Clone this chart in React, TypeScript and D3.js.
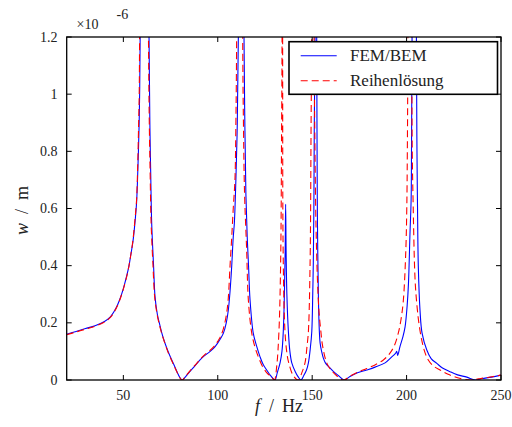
import React from "react";
import * as d3 from "d3";

// FEM/BEM solution (frequency in Hz, displacement in 1e-6 m)
const femF = [20, 25, 30, 35, 40, 43, 46, 48, 50, 52, 53, 54, 55, 56, 57, 57.7, 58.3, 58.6, 58.9, 61, 63.6, 64.1, 64.5, 65, 66, 66.8, 68, 69.4, 71, 73.8, 76, 78, 80, 81.2, 83, 85.3, 88, 90.6, 93, 96, 98.6, 100, 101.5, 103, 104.5, 105.6, 106.5, 107.4, 108.2, 108.8, 109.5, 110.2, 110.9, 112.4, 113.9, 114.4, 114.9, 115.6, 116.3, 117.1, 118.8, 120.5, 122.4, 124, 125.9, 128, 130.3, 131.5, 133, 134, 134.7, 135.3, 135.7, 135.95, 136.2, 136.6, 137.4, 138.2, 139.2, 141, 142.5, 144.1, 145.5, 147, 148, 149, 149.8, 150.3, 150.6, 150.9, 151.1, 151.5, 152, 152.4, 152.6, 152.8, 153.3, 153.8, 154.2, 155, 156, 157, 159, 161.2, 164, 167, 170, 174, 178.9, 183.3, 188.6, 192, 194, 194.8, 195.3, 196.5, 198, 199.2, 200.3, 201, 201.8, 202.4, 202.6, 202.9, 204.1, 205.2, 205.5, 205.8, 206.2, 207.1, 208.2, 210.7, 213, 216, 219, 223, 227, 231.9, 236.3, 240, 245, 250];
const femW = [0.16, 0.17, 0.18, 0.19, 0.205, 0.22, 0.25, 0.28, 0.32, 0.37, 0.4, 0.44, 0.48, 0.54, 0.62, 0.74, 0.88, 0.99, 1.2, 5, 1.2, 0.87, 0.72, 0.55, 0.4, 0.29, 0.23, 0.19, 0.15, 0.098, 0.065, 0.035, 0.008, 0, 0.012, 0.03, 0.05, 0.07, 0.085, 0.1, 0.117, 0.13, 0.145, 0.164, 0.2, 0.245, 0.31, 0.4, 0.5, 0.55, 0.68, 0.85, 1.2, 5, 1.2, 0.87, 0.65, 0.5, 0.4, 0.28, 0.164, 0.12, 0.081, 0.055, 0.035, 0.015, 0, 0.025, 0.06, 0.1, 0.17, 0.3, 0.45, 0.615, 0.45, 0.3, 0.17, 0.1, 0.06, 0.03, 0.012, 0, 0.015, 0.035, 0.06, 0.11, 0.17, 0.3, 0.41, 0.6, 0.87, 1.2, 5, 1.2, 0.8, 0.55, 0.29, 0.17, 0.13, 0.1, 0.075, 0.06, 0.045, 0.03, 0.015, 0, 0.012, 0.025, 0.035, 0.045, 0.06, 0.08, 0.092, 0.1, 0.086, 0.117, 0.15, 0.186, 0.26, 0.338, 0.513, 0.63, 0.8, 1.2, 5, 1.2, 0.8, 0.6, 0.4, 0.245, 0.164, 0.105, 0.075, 0.058, 0.042, 0.029, 0.018, 0.01, 0, 0.005, 0.01, 0.017];

// series solution (Reihenlösung)
const reiheF = [20, 25, 30, 35, 40, 43, 46, 48, 50, 52, 53, 54, 55, 56, 57, 57.6, 58.1, 58.4, 58.6, 61, 63.3, 63.8, 64.2, 64.7, 65.7, 66.6, 68, 69.4, 71, 73.8, 76, 78, 80, 81.1, 83, 85.3, 88, 90.6, 93, 96, 98.6, 100, 101.5, 103, 104.5, 105.5, 106.5, 107.4, 108.2, 109.1, 109.6, 110, 111.6, 113.2, 113.6, 114.2, 115.3, 116.2, 118, 119.7, 121.5, 123.5, 126, 128.6, 130, 131.2, 132.4, 133.3, 133.8, 134.05, 134.2, 134.35, 134.7, 135.6, 136.5, 137.4, 140, 142.7, 144.5, 146.2, 147.3, 148, 148.9, 149.4, 149.7, 150.4, 151, 151.5, 152, 152.8, 153.6, 154.6, 155.5, 157.7, 160, 163, 166.5, 170, 174, 178.9, 183, 187.7, 191.2, 193.5, 195.6, 197, 198.3, 199.6, 200.1, 200.4, 200.7, 201.7, 202.7, 203, 203.4, 204.5, 205.5, 206.5, 208, 209.8, 211.5, 214, 217.7, 222, 227, 233.6, 238, 243, 250];
const reiheW = [0.158, 0.168, 0.178, 0.188, 0.203, 0.218, 0.248, 0.278, 0.318, 0.368, 0.4, 0.44, 0.485, 0.55, 0.63, 0.75, 0.9, 1.0, 1.2, 5, 1.2, 0.87, 0.72, 0.55, 0.4, 0.29, 0.225, 0.185, 0.148, 0.095, 0.062, 0.033, 0.007, 0, 0.013, 0.032, 0.052, 0.072, 0.088, 0.104, 0.122, 0.135, 0.152, 0.18, 0.225, 0.28, 0.4, 0.5, 0.6, 0.7, 0.9, 1.2, 5, 1.2, 0.9, 0.65, 0.455, 0.28, 0.164, 0.115, 0.081, 0.05, 0.025, 0.01, 0, 0.047, 0.17, 0.41, 0.87, 1.2, 5, 1.2, 0.41, 0.17, 0.1, 0.065, 0.015, 0, 0.025, 0.06, 0.12, 0.17, 0.41, 0.87, 1.2, 5, 1.2, 0.8, 0.55, 0.35, 0.24, 0.17, 0.12, 0.06, 0.035, 0.015, 0, 0.013, 0.027, 0.04, 0.052, 0.07, 0.094, 0.12, 0.164, 0.21, 0.28, 0.455, 0.6, 0.8, 1.2, 5, 1.2, 0.8, 0.64, 0.35, 0.26, 0.2, 0.14, 0.095, 0.07, 0.05, 0.035, 0.02, 0.008, 0, 0.004, 0.009, 0.017];

const xTicks = [50, 100, 150, 200, 250];
const yTicks = [0, 0.2, 0.4, 0.6, 0.8, 1, 1.2];
const legendLabels = ["FEM/BEM", "Reihenlösung"];

const W = 512;
const H = 427;
const left = 66.7, right = 501, top = 37, bottom = 380;
const serif = { fontFamily: "Liberation Serif, DejaVu Serif, serif" };

export default function App() {
  const x = d3.scaleLinear().domain([20, 250]).range([left, right]);
  const y = d3.scaleLinear().domain([0, 1.2]).range([bottom, top]);

  const line = d3.line<[number, number]>()
    .x((d) => x(d[0]))
    .y((d) => y(d[1]))
    .curve(d3.curveCatmullRom.alpha(0.5));

  const fem = femF.map((f, i) => [f, femW[i]] as [number, number]);
  const reihe = reiheF.map((f, i) => [f, reiheW[i]] as [number, number]);

  const tick = 5;

  return (
    <svg width={W} height={H} style={{ position: "absolute", left: 0, top: 0, background: "#fff" }}>
      <defs>
        <clipPath id="plot">
          <rect x={left} y={top} width={right - left} height={bottom - top} />
        </clipPath>
      </defs>

      <g clipPath="url(#plot)">
        <path d={line(fem) || ""} fill="none" stroke="#0000ff" strokeWidth={1.1} />
        <path d={line(reihe) || ""} fill="none" stroke="#ff0000" strokeWidth={1.1} strokeDasharray="7 4" />
      </g>

      {/* ticks, inward on all four sides */}
      {xTicks.map((t) => (
        <g key={"x" + t}>
          <line x1={x(t)} x2={x(t)} y1={bottom} y2={bottom - tick} stroke="#000" strokeWidth={1} />
          <line x1={x(t)} x2={x(t)} y1={top} y2={top + tick} stroke="#000" strokeWidth={1} />
          <text x={x(t)} y={400} textAnchor="middle" fontSize={14} fill="#222" style={serif}>{t}</text>
        </g>
      ))}
      {yTicks.map((t) => (
        <g key={"y" + t}>
          <line x1={left} x2={left + tick} y1={y(t)} y2={y(t)} stroke="#000" strokeWidth={1} />
          <line x1={right} x2={right - tick} y1={y(t)} y2={y(t)} stroke="#000" strokeWidth={1} />
          <text x={57.5} y={y(t)} dy="0.33em" textAnchor="end" fontSize={14} fill="#222" style={serif}>{String(t)}</text>
        </g>
      ))}

      <rect x={left} y={top} width={right - left} height={bottom - top} fill="none" stroke="#000" strokeWidth={1.3} />

      <text x={76.5} y={29} fontSize={14} fill="#222" style={serif}>×10</text>
      <text x={116.5} y={18.5} fontSize={14} fill="#222" style={serif}>-6</text>

      {/* legend */}
      <g>
        <rect x={289} y={41.7} width={208.5} height={52.6} fill="#fff" stroke="#000" strokeWidth={1.6} />
        <line x1={300.7} x2={336.7} y1={55.7} y2={55.7} stroke="#0000ff" strokeWidth={1.1} />
        <line x1={300.7} x2={336.7} y1={80.7} y2={80.7} stroke="#ff0000" strokeWidth={1.1} strokeDasharray="7 4" />
        <text x={350} y={60.5} fontSize={17} fill="#222" style={serif}>{legendLabels[0]}</text>
        <text x={350} y={86} fontSize={17} fill="#222" style={serif}>{legendLabels[1]}</text>
      </g>

      {/* axis labels */}
      <text x={255} y={412} fontSize={18} fill="#222" style={serif}>
        <tspan fontStyle="italic">f</tspan>
        <tspan dx={9}>/</tspan>
        <tspan dx={8}>Hz</tspan>
      </text>
      <text transform="translate(28,235) rotate(-90)" fontSize={18} fill="#222" style={serif}>
        <tspan fontStyle="italic">w</tspan>
        <tspan dx={9}>/</tspan>
        <tspan dx={9}>m</tspan>
      </text>
    </svg>
  );
}
